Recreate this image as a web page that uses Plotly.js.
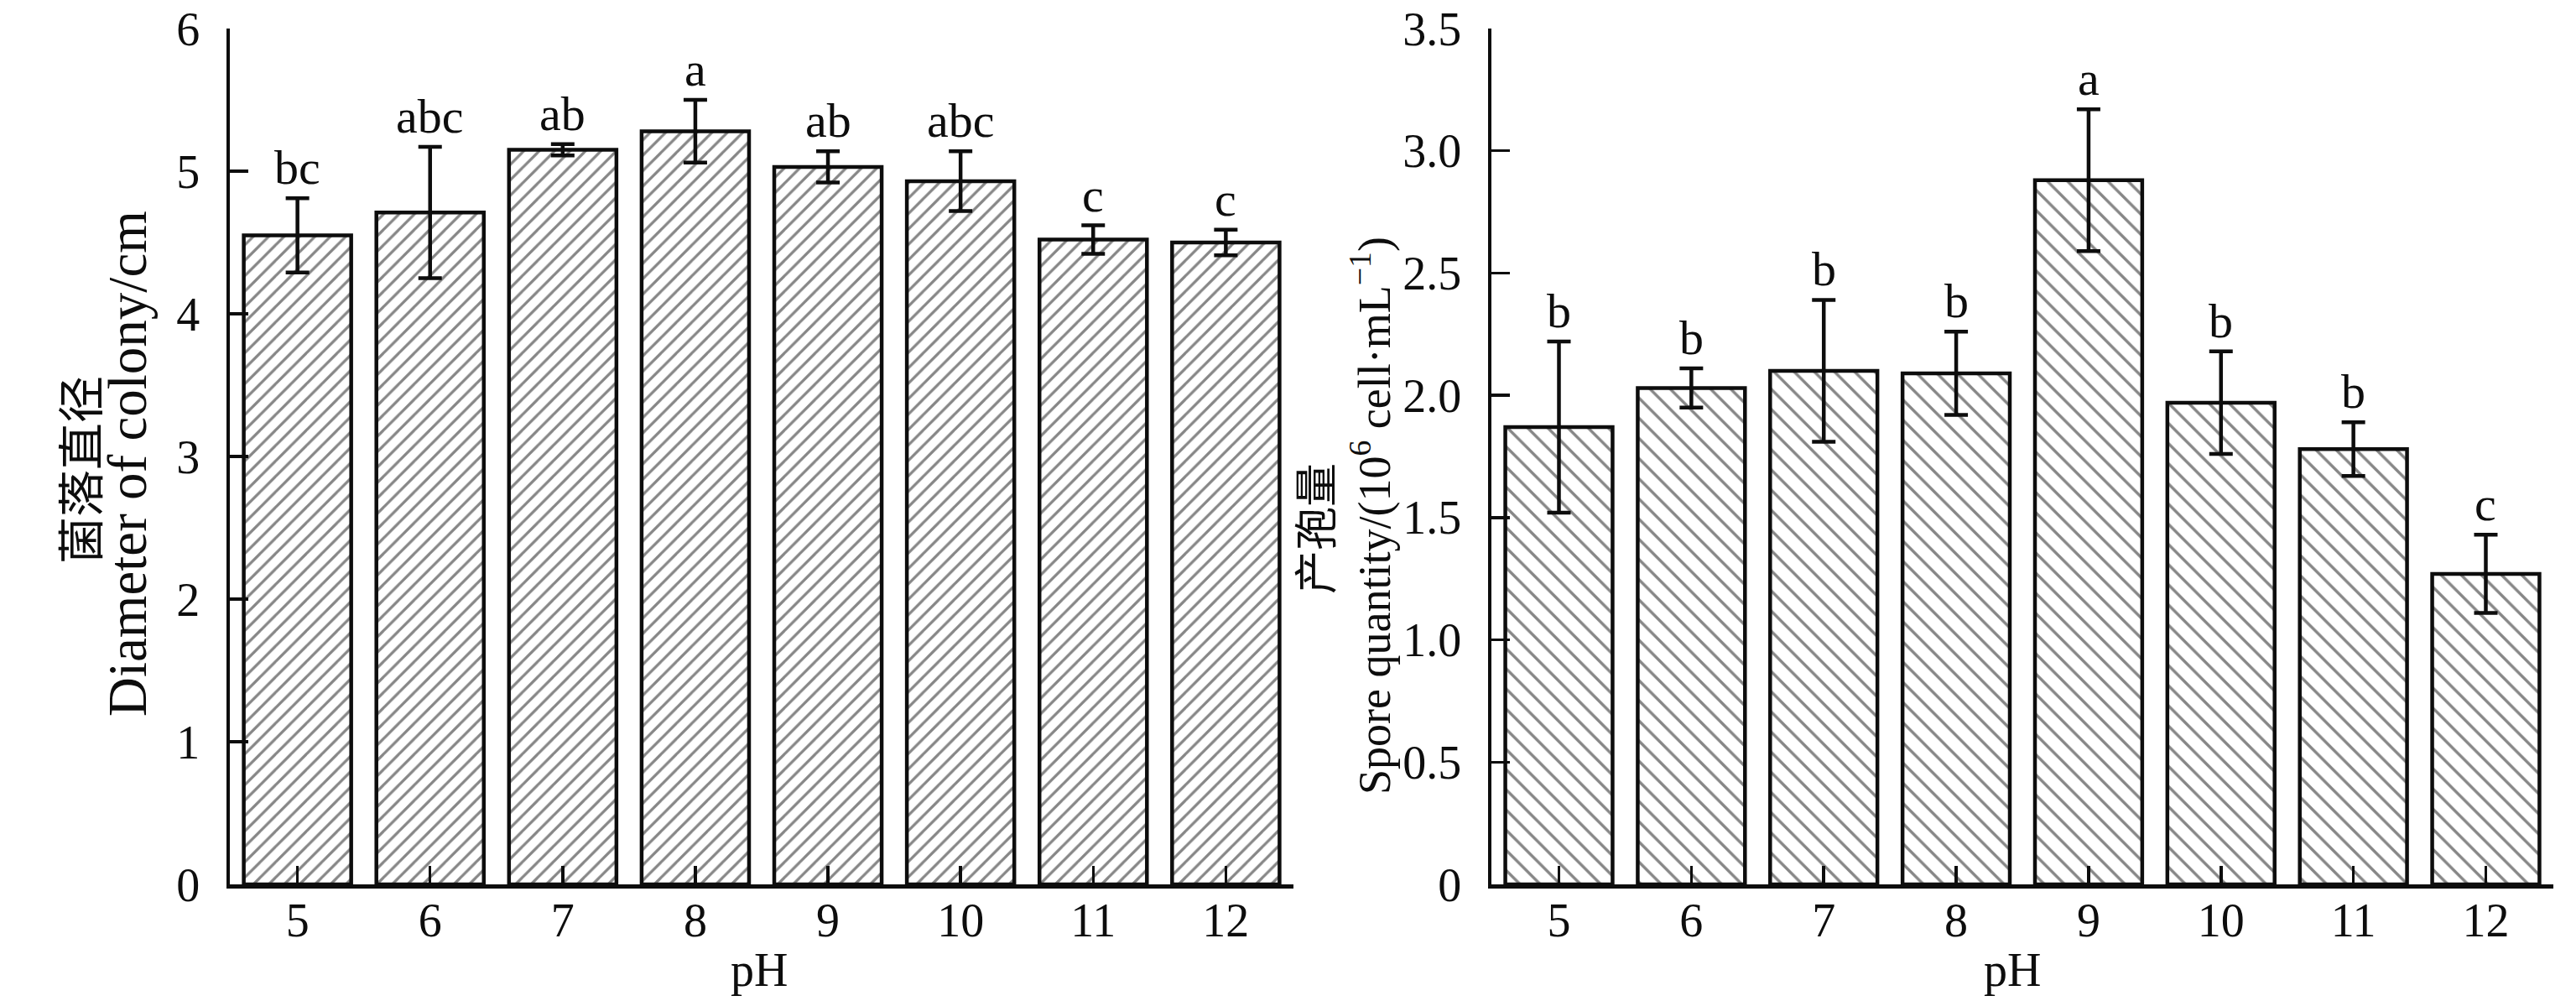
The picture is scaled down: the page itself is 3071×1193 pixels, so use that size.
<!DOCTYPE html>
<html>
<head>
<meta charset="utf-8">
<script src="https://cdn.plot.ly/plotly-3.0.1.min.js"></script>
<style>html,body{margin:0;padding:0;background:#fff;}#chart{width:3071px;height:1193px;}</style>
</head>
<body>
<div id="chart"></div>
<script>
// ---- data ----
const phValues = [5, 6, 7, 8, 9, 10, 11, 12];
const phLabels = ["5", "6", "7", "8", "9", "10", "11", "12"];

const diameterMean = [4.55, 4.71, 5.15, 5.28, 5.03, 4.93, 4.52, 4.50];
const diameterErr  = [0.26, 0.46, 0.04, 0.22, 0.11, 0.21, 0.10, 0.09];
const diameterSig  = ["bc", "abc", "ab", "a", "ab", "abc", "c", "c"];

const sporeMean = [1.87, 2.03, 2.10, 2.09, 2.88, 1.97, 1.78, 1.27];
const sporeErr  = [0.35, 0.08, 0.29, 0.17, 0.29, 0.21, 0.11, 0.16];
const sporeSig  = ["b", "b", "b", "b", "a", "b", "b", "c"];

const diameterTicks = [0, 1, 2, 3, 4, 5, 6];
const diameterTickText = ["0", "1", "2", "3", "4", "5", "6"];
const sporeTicks = [0, 0.5, 1.0, 1.5, 2.0, 2.5, 3.0, 3.5];
const sporeTickText = ["0", "0.5", "1.0", "1.5", "2.0", "2.5", "3.0", "3.5"];

// ---- layout helpers ----
const W = 3071, H = 1193;
const px = x => x / W;
const py = y => 1 - y / H;
const SERIF = "Liberation Serif, Times New Roman, serif";
const CJK = "Noto Sans CJK SC, sans-serif";
const INK = "#0d0d0d";

function barTrace(y, err, xa, ya, shape, size, sol) {
  return {
    type: "bar", x: phValues, y: y, xaxis: xa, yaxis: ya, width: 0.81,
    marker: {
      color: "white",
      line: {color: INK, width: 4.5},
      pattern: {shape: shape, fgcolor: INK, bgcolor: "white", size: size, solidity: sol, fillmode: "overlay"}
    },
    error_y: {type: "data", array: err, visible: true, color: INK, thickness: 4.5, width: 14},
    hoverinfo: "none"
  };
}

const traces = [
  barTrace(diameterMean, diameterErr, "x", "y", "/", 13, 0.25),
  barTrace(sporeMean, sporeErr, "x2", "y2", "\\", 17, 0.2)
];

function axisX(domain, anchor) {
  return {
    domain: domain, anchor: anchor, range: [4.49, 12.51],
    tickvals: phValues, ticktext: phLabels,
    ticks: "inside", ticklen: 22, tickwidth: 3.5, tickcolor: INK,
    showline: true, linewidth: 4.5, linecolor: INK, layer: "above traces",
    showgrid: false, zeroline: false, ticklabelstandoff: -10,
    tickfont: {family: SERIF, size: 56, color: INK}, fixedrange: true
  };
}
function axisY(domain, anchor, range, tv, tt) {
  return {
    domain: domain, anchor: anchor, range: range,
    tickvals: tv, ticktext: tt,
    ticks: "inside", ticklen: 22, tickwidth: 3.5, tickcolor: INK,
    showline: true, linewidth: 4.5, linecolor: INK, layer: "above traces",
    showgrid: false, zeroline: false, ticklabelstandoff: 20,
    tickfont: {family: SERIF, size: 56, color: INK}, fixedrange: true
  };
}

const yDom = [py(1054), py(34)];

const annotations = [];
phValues.forEach((p, i) => {
  annotations.push({x: p, y: diameterMean[i] + diameterErr[i], xref: "x", yref: "y",
    text: diameterSig[i], showarrow: false, yanchor: "bottom", yshift: 2,
    font: {family: SERIF, size: 58, color: INK}});
  annotations.push({x: p, y: sporeMean[i] + sporeErr[i], xref: "x2", yref: "y2",
    text: sporeSig[i], showarrow: false, yanchor: "bottom", yshift: 2,
    font: {family: SERIF, size: 58, color: INK}});
});

// axis titles
annotations.push({xref: "paper", yref: "paper", x: px(905), y: py(1156), text: "pH",
  showarrow: false, xanchor: "center", yanchor: "middle", font: {family: SERIF, size: 56, color: INK}});
annotations.push({xref: "paper", yref: "paper", x: px(2399), y: py(1156), text: "pH",
  showarrow: false, xanchor: "center", yanchor: "middle", font: {family: SERIF, size: 56, color: INK}});
annotations.push({xref: "paper", yref: "paper", x: px(92), y: py(560), text: "菌落直径",
  textangle: -90, showarrow: false, xanchor: "center", yanchor: "middle", font: {family: CJK, size: 56, color: INK}});
annotations.push({xref: "paper", yref: "paper", x: px(152), y: py(553), text: "Diameter of colony/cm",
  textangle: -90, showarrow: false, xanchor: "center", yanchor: "middle", font: {family: SERIF, size: 65, color: INK}});
annotations.push({xref: "paper", yref: "paper", x: px(1566), y: py(630), text: "产孢量",
  textangle: -90, showarrow: false, xanchor: "center", yanchor: "middle", font: {family: CJK, size: 52, color: INK}});
annotations.push({xref: "paper", yref: "paper", x: px(1634), y: py(615), text: "Spore quantity/(10<sup>6</sup> cell·mL<sup>−1</sup>)",
  textangle: -90, showarrow: false, xanchor: "center", yanchor: "middle", font: {family: SERIF, size: 54, color: INK}});

const layout = {
  width: W, height: H,
  margin: {l: 0, r: 0, t: 0, b: 0, pad: 0},
  paper_bgcolor: "white", plot_bgcolor: "white",
  showlegend: false,
  xaxis: axisX([px(274), px(1542)], "y"),
  yaxis: axisY(yDom, "x", [0, 6], diameterTicks, diameterTickText),
  xaxis2: axisX([px(1778), px(3044)], "y2"),
  yaxis2: axisY(yDom, "x2", [0, 3.5], sporeTicks, sporeTickText),
  annotations: annotations
};

Plotly.newPlot("chart", traces, layout, {staticPlot: true, displayModeBar: false});
</script>
</body>
</html>
